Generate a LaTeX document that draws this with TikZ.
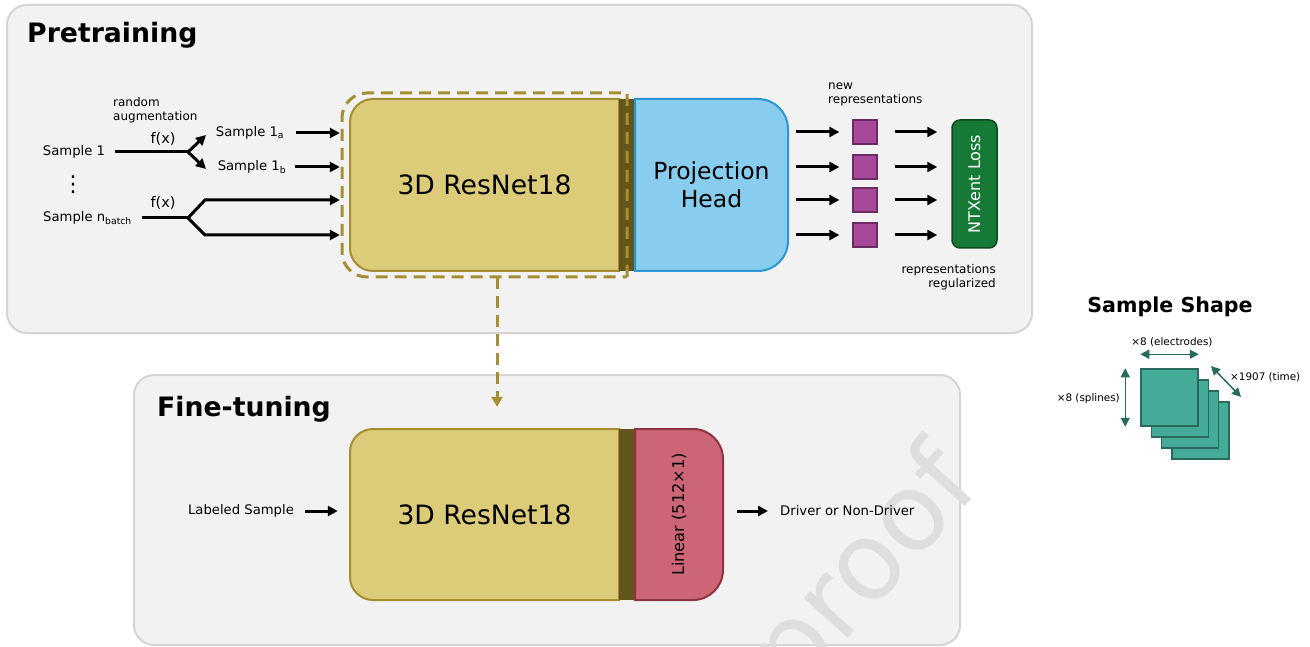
\documentclass[tikz,border=0pt]{standalone}
\usepackage{fontspec}
\usepackage{graphicx}
\setmainfont{DejaVu Sans}
\usetikzlibrary{positioning,arrows.meta}

\definecolor{panelbg}{HTML}{F2F2F2}
\definecolor{panelrim}{HTML}{D5D5D5}
\definecolor{resfill}{HTML}{DCCC7A}
\definecolor{resrim}{HTML}{A68F32}
\definecolor{stripc}{HTML}{62561D}
\definecolor{projfill}{HTML}{88CDEE}
\definecolor{projrim}{HTML}{2C97D2}
\definecolor{repfill}{HTML}{A8489B}
\definecolor{reprim}{HTML}{6A2B62}
\definecolor{lossfill}{HTML}{167A36}
\definecolor{lossrim}{HTML}{0E4820}
\definecolor{linfill}{HTML}{CC6677}
\definecolor{linrim}{HTML}{8E3343}
\definecolor{shpfill}{HTML}{45AB99}
\definecolor{shprim}{HTML}{2A6A5D}
\definecolor{wmark}{HTML}{DEDEDE}

\newcommand{\fsz}[2]{\fontsize{#1}{#2}\selectfont}

\begin{document}
\begin{tikzpicture}[x=1pt, y=-1pt,
    panel/.style={fill=panelbg, draw=panelrim, line width=2pt, rounded corners=20pt},
    title/.style={font=\fsz{26.7}{30}\bfseries, anchor=base west, inner sep=0pt},
    lbl/.style={font=\fsz{13.2}{16}, inner sep=0pt},
    fx/.style={font=\fsz{14.5}{17}, inner sep=0pt},
    note/.style={font=\fsz{12}{14}, inner sep=0pt},
    blk/.style={font=\fsz{26.6}{30}, inner sep=0pt},
    wire/.style={line width=3pt},
    arr/.style={wire, -{Triangle[length=10pt, width=10pt]}},
    resblk/.style={fill=resfill, draw=resrim, line width=2pt},
    projblk/.style={fill=projfill, draw=projrim, line width=2pt},
    linblk/.style={fill=linfill, draw=linrim, line width=2pt},
    dashbox/.style={draw=resrim, line width=3pt, dash pattern=on 12pt off 7pt},
    dasharr/.style={dashbox, -{Triangle[length=10pt, width=11pt]}},
    rep/.style={fill=repfill, draw=reprim, line width=1.2pt, minimum size=24pt, inner sep=0pt},
    lossbox/.style={fill=lossfill, draw=lossrim, line width=1.5pt, rounded corners=8pt,
      text=white, font=\fsz{16}{18}, inner sep=0pt},
    shp/.style={fill=shpfill, draw=shprim, line width=1.5pt},
    dim/.style={draw=shprim, line width=1.5pt,
      {Triangle[length=9pt, width=9pt]}-{Triangle[length=9pt, width=9pt]}},
    dimtxt/.style={font=\fsz{10.4}{12}, inner sep=0pt}]
\useasboundingbox (0,0) rectangle (1310,647);

% panels
\draw[panel] (7,5) rectangle (1032,333);
\draw[panel] (134,375) rectangle (960,645);
\node[title] (pre) at (27,43) {Pretraining};
\node[title] (fin) at (157,416) {Fine-tuning};

% watermark
\node[rotate=48, text=wmark, font=\fsz{108}{108}, inner sep=0pt] (wm) at (867,572) {proof};

% encoder and projection head
\draw[resblk] (619,99) [rounded corners=23pt] -- (350,99) -- (350,271) [sharp corners] -- (619,271) -- cycle;
\fill[stripc] (619,99) rectangle (635,271);
\draw[projblk] (635,99) [rounded corners=30pt] -- (788,99) -- (788,271) [sharp corners] -- (635,271) -- cycle;
\draw[dashbox] (627,277) -- (627,93) [rounded corners=25pt] -- (342,93) -- (342,277) [sharp corners] -- (627,277);
\node[blk, minimum width=269pt, minimum height=172pt] (res1) at (484.5,185) {3D ResNet18};
\node[blk, font=\fsz{23.5}{28}, align=center, minimum width=153pt, minimum height=172pt] (proj) at (711.5,185) {Projection\\Head};

% inputs
\node[lbl] (s1) at (74,152) {Sample 1};
\node[lbl, font=\fsz{22}{24}] (dots) at (73,185) {⋮};
\node[lbl] (sn) at (87.5,218) {Sample n\textsubscript{batch}};
\node[note, anchor=north west, align=left] (aug) at (113,97) {random\\augmentation};
\node[lbl] (s1a) at (250,133) {Sample 1\textsubscript{a}};
\node[lbl] (s1b) at (252,167) {Sample 1\textsubscript{b}};
\node[fx] (fx1) at (163,139) {f(x)};
\node[fx] (fxn) at (163,203) {f(x)};
\coordinate (fk1) at (188,152);
\coordinate (fkn) at (188,218);
\coordinate (ta) at (206,135);
\coordinate (tb) at (206,169);
\coordinate (na) at (205,200);
\coordinate (nb) at (205,235);

\draw[wire, shorten <=10pt] (s1) -- (fk1);
\draw[arr] (fk1) -- (ta);
\draw[arr] (fk1) -- (tb);
\draw[arr, shorten <=12pt, shorten >=10pt] (s1a.east) -- (s1a.east -| res1.west);
\draw[arr, shorten <=9pt, shorten >=10pt] (s1b.east) -- (s1b.east -| res1.west);
\draw[wire, shorten <=10pt] (sn) -- (fkn);
\draw[arr, shorten >=10pt] (fkn) -- (na) -- (na -| res1.west);
\draw[arr, shorten >=10pt] (fkn) -- (nb) -- (nb -| res1.west);

% representations and loss
\node[lossbox, minimum width=45pt, minimum height=128pt] (loss) at (974.5,184) {\rotatebox{90}{NTXent Loss}};
\foreach \y [count=\i] in {132,167,200,235} {
  \node[rep] (r\i) at (865,\y) {};
  \draw[arr, shorten <=8pt, shorten >=13pt] (proj.east |- r\i) -- (r\i.west);
  \draw[arr, shorten <=17pt, shorten >=14pt] (r\i.east) -- (r\i -| loss.west);
}
\node[note, anchor=north west, align=left] (newrep) at (828,83) {new\\representations};
\node[note, anchor=north east, align=right] (regrep) at (996,264) {representations\\regularized};

% fine-tuning
\draw[resblk] (619,429) [rounded corners=23pt] -- (350,429) -- (350,600) [sharp corners] -- (619,600) -- cycle;
\fill[stripc] (619,429) rectangle (635,600);
\draw[linblk] (635,429) [rounded corners=30pt] -- (723,429) -- (723,600) [sharp corners] -- (635,600) -- cycle;
\node[blk, minimum width=269pt, minimum height=171pt] (res2) at (484.5,514.5) {3D ResNet18};
\node[inner sep=0pt, font=\fsz{16.2}{18}, minimum width=88pt, minimum height=171pt] (lin) at (679,514.5) {\rotatebox{90}{Linear (512×1)}};
\node[lbl] (lab) at (241,511) {Labeled Sample};
\node[lbl, anchor=west] (drv) at (780,511) {Driver or Non-Driver};
\draw[arr, shorten <=11pt, shorten >=12pt] (lab.east) -- (lab.east -| res2.west);
\draw[arr, shorten <=14pt, shorten >=12pt] (lin.east |- drv) -- (drv.west);

% transfer of weights
\coordinate (encb) at (497,277);
\draw[dasharr, shorten >=22pt] (encb) -- (encb |- res2.north);

% sample shape
\node[font=\fsz{20.6}{24}\bfseries, inner sep=0pt] (shape) at (1170,307) {Sample Shape};
\foreach \k in {3,2,1}
  \draw[shp] (1141+10.3*\k,369+11*\k) rectangle ++(57,57);
\node[shp, minimum size=57pt, inner sep=0pt] (sq) at (1169.5,397.5) {};
\draw[dim] ([yshift=14pt]sq.north west) -- ([yshift=14pt]sq.north east);
\draw[dim] ([xshift=-15pt]sq.north west) -- ([xshift=-15pt]sq.south west);
\coordinate (t0) at (1211,366);
\coordinate (t1) at (1241,397);
\draw[dim] (t0) -- (t1);
\node[dimtxt] (el) at (1172,342) {×8 (electrodes)};
\node[dimtxt, anchor=east] (sp) at (1120,399) {×8 (splines)};
\node[dimtxt, anchor=west] (tm) at (1230,377) {×1907 (time)};
\end{tikzpicture}
\end{document}
